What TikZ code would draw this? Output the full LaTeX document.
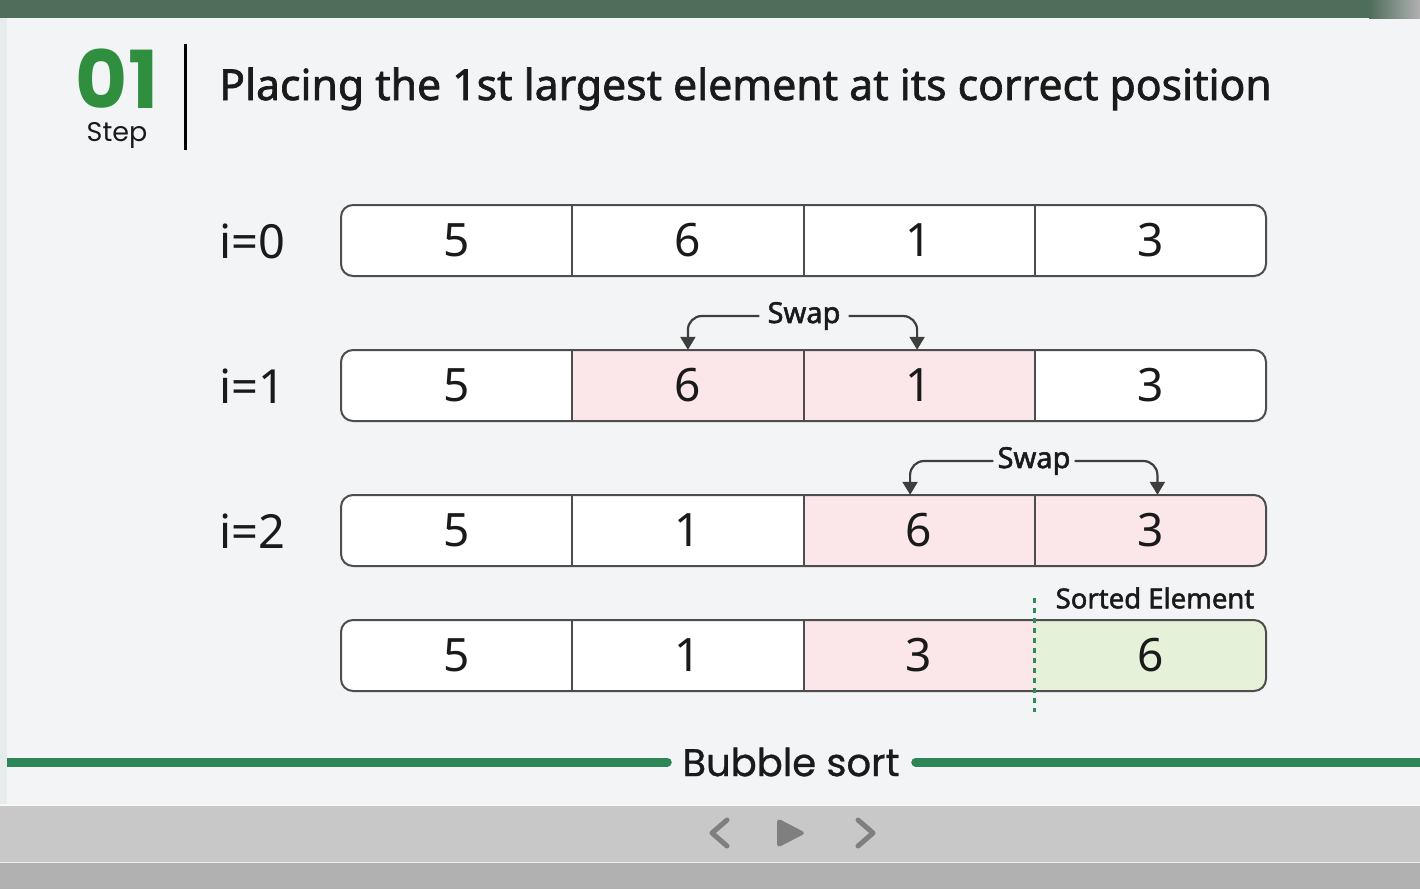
\documentclass[tikz,border=0pt]{standalone}
\usepackage{fontspec}
\setmainfont{Noto Sans}
\newfontfamily\pop{Poppins}
\newfontfamily\popmed[FakeBold=0.8]{Poppins}
\newfontfamily\titlefont[FakeBold=1.6]{Noto Sans}
\newfontfamily\semib[FakeBold=1.8]{Noto Sans}
\usetikzlibrary{arrows.meta}
\definecolor{bg}{HTML}{F3F4F6}
\definecolor{topbar}{HTML}{4E6D5B}
\definecolor{strip}{HTML}{E6ECE9}
\definecolor{ctrlbar}{HTML}{C8C8C8}
\definecolor{ctrlbot}{HTML}{B1B1B1}
\definecolor{icon}{HTML}{7F7F7F}
\definecolor{hdrgreen}{HTML}{2F8F3E}
\definecolor{linegreen}{HTML}{2E8557}
\definecolor{dotgreen}{HTML}{2E8B57}
\definecolor{pinkcell}{HTML}{FBE7EA}
\definecolor{greencell}{HTML}{E5F1D9}
\definecolor{border}{HTML}{4D4D4D}
\definecolor{txt}{HTML}{1A1A1A}
\begin{document}
\begin{tikzpicture}[x=1pt,y=-1pt,
  cell/.style={minimum width=231.25pt, minimum height=71pt, inner sep=0pt, text=txt,
    font=\fontsize{46}{46}\selectfont},
  rowline/.style={draw=border, line width=2pt},
  ilabel/.style={anchor=base west, inner sep=0pt, text=txt, font=\fontsize{47}{47}\selectfont},
  swaplabel/.style={inner sep=0pt, text=txt, font=\semib\fontsize{29}{29}\selectfont},
  swaparrow/.style={draw=border!80!black, line width=2.2pt, rounded corners=14pt,
    -{Triangle[width=15pt,length=13pt]}},
  chevron/.style={draw=icon, line width=5pt, line cap=round, line join=round}
]
\clip (0,0) rectangle (1420,889);
% backgrounds
\fill[bg] (0,0) rectangle (1420,889);
\fill[topbar] (0,0) rectangle (1370,18);
\shade[left color=topbar, right color=ctrlbot] (1369,0) rectangle (1420,18);
\fill[ctrlbar] (0,805) rectangle (1420,862);
\draw[white!85!ctrlbar, line width=1.5pt] (0,805) -- (1420,805);
\fill[ctrlbot] (0,862) rectangle (1420,889);
\draw[white!80!ctrlbot, line width=1pt] (0,862.5) -- (1420,862.5);

% header
\node[anchor=base, inner sep=0pt, text=hdrgreen, font=\pop\bfseries\fontsize{80}{80}\selectfont] (num) at (117,108) {01};
\node[anchor=base, inner sep=0pt, text=txt, font=\pop\fontsize{27}{27}\selectfont] (step) at (117,141) {Step};
\draw[black, line width=3pt] (185,44) -- (185,150);
\node[anchor=base west, inner sep=0pt, text=txt, font=\titlefont\fontsize{42.7}{42.7}\selectfont] (title) at (219,100) {Placing the 1st largest element at its correct position};

% row labels
\node[ilabel] (l0) at (219,258) {i=0};
\node[ilabel] (l1) at (219,403) {i=1};
\node[ilabel] (l2) at (219,548) {i=2};

% row 0
\begin{scope}
\clip[rounded corners=12pt] (341,205) rectangle (1266,276);
\node[cell, fill=white] (a0) at (456.6,240.5) {5};
\node[cell, fill=white] (a1) at (687.9,240.5) {6};
\node[cell, fill=white] (a2) at (919.1,240.5) {1};
\node[cell, fill=white] (a3) at (1150.4,240.5) {3};
\end{scope}
\draw[rowline, rounded corners=12pt] (341,205) rectangle (1266,276);
\foreach \c in {a0,a1,a2} \draw[rowline] (\c.north east) -- (\c.south east);

% row 1
\begin{scope}
\clip[rounded corners=12pt] (341,350) rectangle (1266,421);
\node[cell, fill=white] (b0) at (456.6,385.5) {5};
\node[cell, fill=pinkcell] (b1) at (687.9,385.5) {6};
\node[cell, fill=pinkcell] (b2) at (919.1,385.5) {1};
\node[cell, fill=white] (b3) at (1150.4,385.5) {3};
\end{scope}
\draw[rowline, rounded corners=12pt] (341,350) rectangle (1266,421);
\foreach \c in {b0,b1,b2} \draw[rowline] (\c.north east) -- (\c.south east);

% row 2
\begin{scope}
\clip[rounded corners=12pt] (341,495) rectangle (1266,566);
\node[cell, fill=white] (c0) at (456.6,530.5) {5};
\node[cell, fill=white] (c1) at (687.9,530.5) {1};
\node[cell, fill=pinkcell] (c2) at (919.1,530.5) {6};
\node[cell, fill=pinkcell] (c3) at (1150.4,530.5) {3};
\end{scope}
\draw[rowline, rounded corners=12pt] (341,495) rectangle (1266,566);
\foreach \c in {c0,c1,c2} \draw[rowline] (\c.north east) -- (\c.south east);

% row 3
\begin{scope}
\clip[rounded corners=12pt] (341,620) rectangle (1266,691);
\node[cell, fill=white] (d0) at (456.6,655.5) {5};
\node[cell, fill=white] (d1) at (687.9,655.5) {1};
\node[cell, fill=pinkcell] (d2) at (919.1,655.5) {3};
\node[cell, fill=greencell] (d3) at (1150.4,655.5) {6};
\end{scope}
\draw[rowline, rounded corners=12pt] (341,620) rectangle (1266,691);
\foreach \c in {d0,d1} \draw[rowline] (\c.north east) -- (\c.south east);

% swaps
\node[swaplabel] (sw1) at (804,316) {Swap};
\draw[swaparrow] ([xshift=-8pt]sw1.west) -| (b1.north);
\draw[swaparrow] ([xshift=8pt]sw1.east) -| ([xshift=-2pt]b2.north);
\node[swaplabel] (sw2) at (1034,461) {Swap};
\draw[swaparrow] ([xshift=-4pt]sw2.west) -| ([xshift=-9pt]c2.north);
\draw[swaparrow] ([xshift=4pt]sw2.east) -| ([xshift=7pt]c3.north);

% sorted element
\node[inner sep=0pt, text=txt, font=\semib\fontsize{27.5}{27.5}\selectfont] (sorted) at (1155,598) {Sorted Element};
\draw[dotgreen, line width=2.5pt, dash pattern=on 5pt off 5pt]
  ([yshift=22pt]d3.north west) -- ([yshift=-21pt]d3.south west);

% bottom line and title
\node[inner sep=0pt, text=txt, font=\popmed\fontsize{38.5}{38.5}\selectfont] (bub) at (791,762) {Bubble sort};
\draw[linegreen, line width=9pt, line cap=round] (0,762) -- ([xshift=-15pt]bub.west |- 0,762);
\draw[linegreen, line width=9pt, line cap=round] ([xshift=16pt]bub.east |- 0,762) -- (1430,762);
\fill[strip] (0,18) rectangle (7,804);

% controls
\draw[chevron] (727,820) -- (712,833) -- (727,846);
\draw[chevron] (858,820) -- (873,833) -- (858,846);
\fill[icon, rounded corners=4pt] (777,818) -- (806,833) -- (777,848) -- cycle;
\end{tikzpicture}
\end{document}
